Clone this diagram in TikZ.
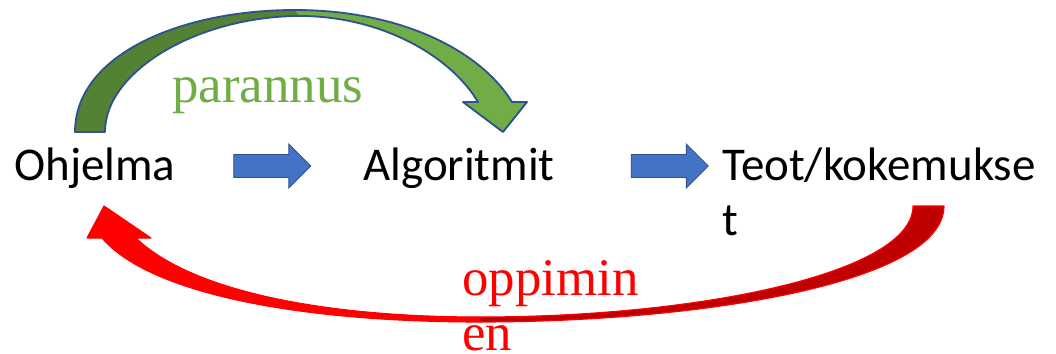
\documentclass[tikz,border=0pt]{standalone}
\usepackage{fontspec}
\setmainfont{Carlito}
\newfontfamily\loopserif{Liberation Serif}
\usetikzlibrary{shapes.arrows,positioning,calc}
\definecolor{arrowblue}{HTML}{4472C4}
\definecolor{edgeblue}{HTML}{2F528F}
\definecolor{lightgreen}{HTML}{70AD47}
\definecolor{darkgreen}{HTML}{548235}
\definecolor{brightred}{HTML}{FF0000}
\definecolor{darkred}{HTML}{C00000}
\tikzset{
  word/.style={anchor=base west, inner sep=0pt, align=left,
    font=\fontsize{33.4}{39}\selectfont},
  loopword/.style={anchor=base west, inner sep=0pt, align=left,
    font=\loopserif\fontsize{37.6}{39}\selectfont},
  flowarrow/.style={single arrow, draw=edgeblue, fill=arrowblue, line width=0.6pt,
    inner sep=0pt, inner ysep=0.275cm, single arrow head extend=0.26cm,
    minimum height=1.925cm},
  greenedge/.style={draw=edgeblue, line width=1.3pt, line join=round},
  rededge/.style={draw=brightred, line width=0.8pt, line join=round}
}

\begin{document}
\begin{tikzpicture}[x=0.025cm, y=-0.025cm]
  \useasboundingbox (0,0) rectangle (1056,354);

  % the three stages, left to right (base = last line)
  \node[word] (ohj) at (14,180) {Ohjelma};
  \node[word] (alg) at (363,180) {Algoritmit};
  \node[word] (teot) at (722,235) {Teot/kokemukse\\t};

  % block arrows between the stages
  \node[flowarrow] (arrA) at (266.5,166) {};
  \node[flowarrow] (arrB) at (664,166) {};

  % parannus: curved arrow over the top, Ohjelma -> Algoritmit
  \fill[darkgreen] (75,132) .. controls (75,55) and (180,10) .. (295,10)
    -- (300,16) .. controls (200,16) and (105,70) .. (105,132) -- cycle;
  \fill[lightgreen] (295,10) .. controls (400,10) and (480,50) .. (512,102)
    -- (527,102) -- (503,132) -- (463,102) -- (478,102)
    .. controls (450,55) and (380,16) .. (300,16) -- cycle;
  \draw[greenedge] (75,132) .. controls (75,55) and (180,10) .. (295,10)
    .. controls (400,10) and (480,50) .. (512,102)
    -- (527,102) -- (503,132) -- (463,102) -- (478,102)
    .. controls (450,55) and (380,16) .. (300,16)
    .. controls (200,16) and (105,70) .. (105,132) -- cycle;
  \node[loopword, text=lightgreen] (par) at (172,103) {parannus};

  % oppiminen: curved arrow underneath, back to Ohjelma
  \fill[darkred] (944,206) .. controls (944,283) and (700,322) .. (480,322)
    -- (480,317) .. controls (700,317) and (913,273) .. (913,206) -- cycle;
  \fill[brightred] (480,322) .. controls (300,322) and (150,294) .. (102,238)
    -- (87,238) -- (104,206) -- (151,238) -- (136,238)
    .. controls (190,290) and (320,317) .. (480,317) -- cycle;
  \draw[rededge] (944,206) .. controls (944,283) and (700,322) .. (480,322)
    .. controls (300,322) and (150,294) .. (102,238)
    -- (87,238) -- (104,206) -- (151,238) -- (136,238)
    .. controls (190,290) and (320,317) .. (480,317)
    .. controls (700,317) and (913,273) .. (913,206) -- cycle;
  \node[loopword, text=brightred, text depth=0pt] (opp) at (462,350) {oppimin\\en};

\end{tikzpicture}
\end{document}
